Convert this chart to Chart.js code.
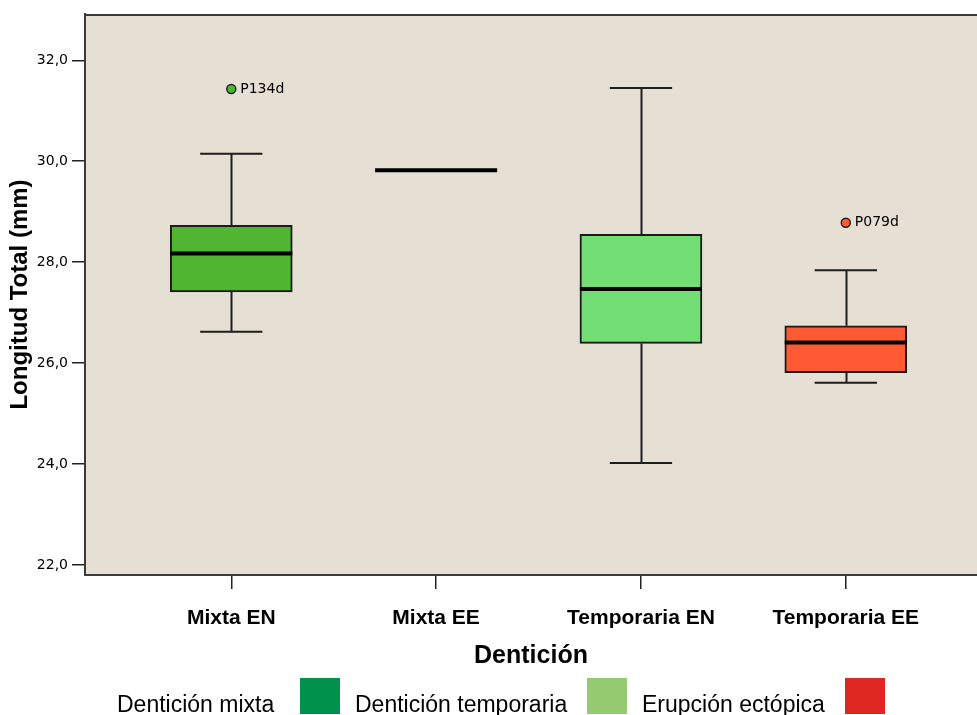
<!DOCTYPE html>
<html>
<head>
<meta charset="utf-8">
<script src="https://cdn.jsdelivr.net/npm/chart.js@4.4.0/dist/chart.umd.min.js"></script>
<style>
  html, body { margin:0; padding:0; background:#fff; }
  #wrap { width:977px; height:715px; position:relative; overflow:hidden; }
</style>
</head>
<body>
<div id="wrap"><canvas id="boxChart" width="977" height="715"></canvas></div>
<script>
// Box plot: Longitud Total (mm) by Dentición
const CATEGORIES   = ['Mixta EN', 'Mixta EE', 'Temporaria EN', 'Temporaria EE'];
const WHISKER_LOW  = [26.62, 29.82, 24.02, 25.61];
const Q1           = [27.41, 29.82, 26.39, 25.81];
const MEDIAN       = [28.17, 29.82, 27.47, 26.41];
const Q3           = [28.73, 29.82, 28.55, 26.74];
const WHISKER_HIGH = [30.15, 29.82, 31.45, 27.84];
const OUTLIER_CAT   = [0, 3];
const OUTLIER_VAL   = [31.43, 28.78];
const OUTLIER_LABEL = ['P134d', 'P079d'];
const Y_TICKS = [22, 24, 26, 28, 30, 32];
const BOX_COLORS = ['#50b531', '#000000', '#72dd72', '#ff5a33'];
const LEGEND_LABELS = ['Dentición mixta', 'Dentición temporaria', 'Erupción ectópica'];
const LEGEND_COLORS = ['#00924a', '#96ca71', '#dc2820'];

const BOX_HALF = 0.298;   // half box width, in category units
const CAP_HALF = 0.152;

const boxData = CATEGORIES.map((c, i) => Q1[i] === Q3[i] ? null : { x:i, y:[Q1[i], Q3[i]] }).filter(d => d);
const outlierData = OUTLIER_VAL.map((v, i) => ({ x:OUTLIER_CAT[i], y:v, label:OUTLIER_LABEL[i] }));

const boxPlugin = {
  id: 'boxPlugin',
  beforeDraw(chart) {
    const {ctx, chartArea:a} = chart;
    ctx.save();
    ctx.fillStyle = '#e5dfd4';
    ctx.fillRect(a.left, a.top, a.right - a.left, a.bottom - a.top);
    ctx.restore();
  },
  afterDatasetsDraw(chart) {
    const {ctx, chartArea:a} = chart;
    const xs = chart.scales.x, ys = chart.scales.y;
    ctx.save();
    ctx.strokeStyle = '#1e1e1e';
    ctx.lineCap = 'butt';
    CATEGORIES.forEach((c, i) => {
      const cx = Math.round(xs.getPixelForValue(i)) + 0.5;
      const capL = xs.getPixelForValue(i - CAP_HALF), capR = xs.getPixelForValue(i + CAP_HALF);
      ctx.lineWidth = 2;
      if (WHISKER_HIGH[i] > Q3[i]) {
        const yt = ys.getPixelForValue(WHISKER_HIGH[i]);
        ctx.beginPath();
        ctx.moveTo(cx, ys.getPixelForValue(Q3[i])); ctx.lineTo(cx, yt);
        ctx.moveTo(capL, yt); ctx.lineTo(capR, yt);
        ctx.stroke();
      }
      if (WHISKER_LOW[i] < Q1[i]) {
        const yb = ys.getPixelForValue(WHISKER_LOW[i]);
        ctx.beginPath();
        ctx.moveTo(cx, ys.getPixelForValue(Q1[i])); ctx.lineTo(cx, yb);
        ctx.moveTo(capL, yb); ctx.lineTo(capR, yb);
        ctx.stroke();
      }
      // median
      const ym = ys.getPixelForValue(MEDIAN[i]);
      ctx.strokeStyle = '#000';
      ctx.lineWidth = 4;
      ctx.beginPath();
      ctx.moveTo(xs.getPixelForValue(i - BOX_HALF), ym);
      ctx.lineTo(xs.getPixelForValue(i + BOX_HALF), ym);
      ctx.stroke();
      ctx.strokeStyle = '#1e1e1e';
    });

    // outlier labels
    ctx.fillStyle = '#000';
    ctx.font = '14px "DejaVu Sans"';
    ctx.textBaseline = 'middle';
    outlierData.forEach(o => {
      ctx.fillText(o.label, xs.getPixelForValue(o.x) + 9, ys.getPixelForValue(o.y));
    });

    // top frame line
    ctx.strokeStyle = '#3a3a3a';
    ctx.lineWidth = 2;
    ctx.beginPath();
    ctx.moveTo(a.left, a.top + 1); ctx.lineTo(a.right, a.top + 1);
    ctx.stroke();
    ctx.restore();
  },
  afterDraw(chart) {
    const ctx = chart.ctx;
    const textX = [117, 355, 642];
    const boxX  = [300, 587, 845];
    ctx.save();
    ctx.font = '23px "Liberation Sans", Arial, sans-serif';
    ctx.textBaseline = 'alphabetic';
    LEGEND_LABELS.forEach((l, i) => {
      ctx.fillStyle = '#000';
      ctx.fillText(l, textX[i], 712);
      ctx.fillStyle = LEGEND_COLORS[i];
      ctx.fillRect(boxX[i], 678, 40, 36);
    });
    ctx.restore();
  }
};

new Chart(document.getElementById('boxChart'), {
  type: 'bar',
  data: {
    datasets: [
      {
        type: 'bar',
        data: boxData,
        backgroundColor: ctx => BOX_COLORS[ctx.raw.x],
        borderColor: '#1a1a1a',
        borderWidth: 2,
        borderSkipped: false,
        barThickness: 122
      },
      {
        type: 'scatter',
        data: outlierData,
        pointRadius: 4.5,
        pointBackgroundColor: ctx => BOX_COLORS[ctx.raw.x],
        pointBorderColor: '#222',
        pointBorderWidth: 1.5
      }
    ]
  },
  options: {
    responsive: false,
    animation: false,
    layout: { autoPadding: false, padding: { top: 14, right: 0, left: 0, bottom: 44 } },
    plugins: { legend: { display:false }, tooltip: { enabled:false } },
    scales: {
      x: {
        type: 'linear',
        offset: false,
        min: -0.714,
        max: 3.6405,
        afterBuildTicks: s => { s.ticks = CATEGORIES.map((c, i) => ({ value:i })); },
        afterFit: s => { s.height = 96; s.paddingLeft = 0; s.paddingRight = 0; s.paddingTop = 0; s.paddingBottom = 0; },
        ticks: {
          callback: v => CATEGORIES[v],
          color: '#000',
          font: { family: '"Liberation Sans", Arial, sans-serif', size: 21, weight: 'bold' },
          padding: 17,
          maxRotation: 0,
          autoSkip: false
        },
        grid: { offset:false, drawOnChartArea:false, drawTicks:true, tickLength:14, color:'#222', lineWidth:1.5 },
        border: { display:true, color:'#3a3a3a', width:2 },
        title: {
          display: true,
          text: 'Dentición',
          color: '#000',
          font: { family: '"Liberation Sans", Arial, sans-serif', size: 25, weight: 'bold' },
          padding: { top:0, bottom:0 }
        }
      },
      y: {
        min: 21.802,
        max: 32.917,
        afterBuildTicks: s => { s.ticks = Y_TICKS.map(v => ({ value:v })); },
        afterFit: s => { s.width = 85; s.paddingLeft = 0; s.paddingRight = 0; s.paddingTop = 0; s.paddingBottom = 0; },
        ticks: {
          callback: v => v.toFixed(1).replace('.', ','),
          color: '#000',
          font: { family: '"DejaVu Sans"', size: 14 },
          padding: 4
        },
        grid: { drawOnChartArea:false, drawTicks:true, tickLength:13, color:'#222', lineWidth:1.5 },
        border: { display:true, color:'#3a3a3a', width:2 },
        title: {
          display: true,
          text: 'Longitud Total (mm)',
          color: '#000',
          font: { family: '"Liberation Sans", Arial, sans-serif', size: 24, weight: 'bold' },
          padding: { top:6, bottom:0 }
        }
      }
    }
  },
  plugins: [boxPlugin]
});
</script>
</body>
</html>
